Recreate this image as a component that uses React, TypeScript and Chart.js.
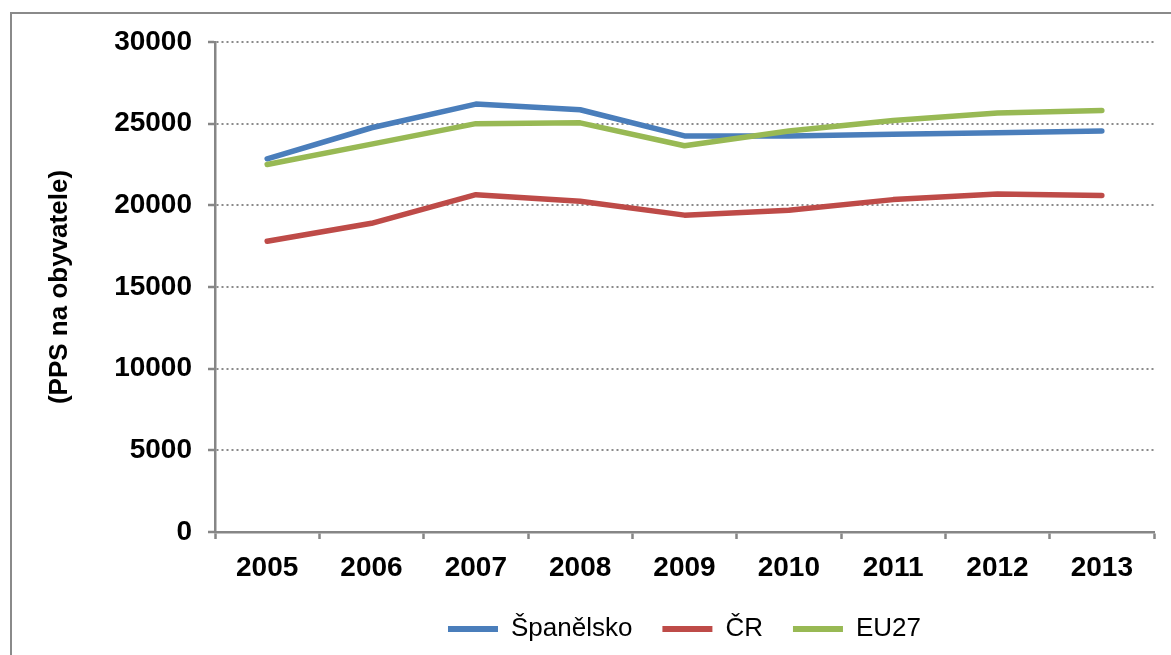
import React, { useEffect, useRef } from "react";
import { Chart, registerables } from "chart.js";

Chart.register(...registerables);

const years = ["2005", "2006", "2007", "2008", "2009", "2010", "2011", "2012", "2013"];
const spanelsko = [22850, 24750, 26200, 25850, 24250, 24250, 24350, 24450, 24550];
const cr = [17800, 18900, 20650, 20250, 19400, 19700, 20350, 20700, 20600];
const eu27 = [22500, 23750, 25000, 25050, 23650, 24550, 25200, 25650, 25800];
const yTicks = [0, 5000, 10000, 15000, 20000, 25000, 30000];

const FONT = "'Liberation Sans', Arial, sans-serif";

export default function App() {
  const ref = useRef<HTMLCanvasElement | null>(null);

  useEffect(() => {
    if (!ref.current) return;
    const chart = new Chart(ref.current, {
      type: "line",
      data: {
        labels: years,
        datasets: [
          {
            label: "Španělsko",
            data: spanelsko,
            borderColor: "#4A7EBB",
            backgroundColor: "#4A7EBB",
            borderWidth: 5.5,
            pointRadius: 0,
            borderCapStyle: "round",
            borderJoinStyle: "round",
            tension: 0,
            order: 1,
          },
          {
            label: "ČR",
            data: cr,
            borderColor: "#BE4B48",
            backgroundColor: "#BE4B48",
            borderWidth: 5.5,
            pointRadius: 0,
            borderCapStyle: "round",
            borderJoinStyle: "round",
            tension: 0,
            order: 2,
          },
          {
            label: "EU27",
            data: eu27,
            borderColor: "#98B954",
            backgroundColor: "#98B954",
            borderWidth: 5.5,
            pointRadius: 0,
            borderCapStyle: "round",
            borderJoinStyle: "round",
            tension: 0,
            order: 0,
          },
        ],
      },
      options: {
        animation: false,
        responsive: false,
        maintainAspectRatio: false,
        layout: { padding: { left: 20, top: 42, right: 17, bottom: 3 } },
        plugins: {
          tooltip: { enabled: false },
          legend: {
            position: "bottom",
            fullSize: false,
            labels: {
              sort: (a: any, b: any) => a.datasetIndex - b.datasetIndex,
              boxWidth: 50,
              boxHeight: 6,
              padding: 30,
              color: "#000",
              font: { family: FONT, size: 26 },
              generateLabels: (c: any) =>
                c.data.datasets.map((ds: any, i: number) => ({
                  text: ds.label,
                  fillStyle: ds.borderColor,
                  strokeStyle: ds.borderColor,
                  lineWidth: 0,
                  datasetIndex: i,
                  hidden: false,
                  fontColor: "#000",
                })),
            },
          },
        },
        scales: {
          x: {
            offset: true,
            grid: {
              offset: true,
              drawOnChartArea: false,
              drawTicks: true,
              tickLength: 7,
              tickColor: "#868686",
              tickWidth: 2.5,
            },
            border: { color: "#868686", width: 2.5 },
            ticks: {
              color: "#000",
              padding: 12,
              maxRotation: 0,
              font: { family: FONT, size: 28, weight: "bold" },
            },
            afterFit: (s: any) => {
              s.height = 54;
            },
          },
          y: {
            min: 0,
            max: 30000,
            afterBuildTicks: (s: any) => {
              s.ticks = yTicks.map((v) => ({ value: v }));
            },
            grid: {
              color: "#8a8a8a",
              lineWidth: 2,
              drawTicks: true,
              tickLength: 7,
              tickColor: "#868686",
              tickWidth: 2.5,
              tickBorderDash: [],
            },
            border: { color: "#868686", width: 2.5, dash: [2, 3] },
            ticks: {
              color: "#000",
              padding: 16,
              font: { family: FONT, size: 28, weight: "bold" },
              callback: (v: any) => String(v),
            },
            title: {
              display: true,
              text: "(PPS na obyvatele)",
              color: "#000",
              padding: { top: 24, bottom: 0 },
              font: { family: FONT, size: 26, weight: "bold" },
            },
            afterFit: (s: any) => {
              s.width = 195;
            },
          },
        },
      },
    });
    return () => chart.destroy();
  }, []);

  return (
    <div
      style={{
        position: "fixed",
        left: 0,
        top: 0,
        width: 1171,
        height: 655,
        overflow: "hidden",
        background: "#fff",
      }}
    >
      <div
        style={{
          position: "absolute",
          left: 10,
          top: 12,
          width: 1250,
          height: 750,
          border: "2px solid #8a8a8a",
          boxSizing: "border-box",
        }}
      />
      <canvas
        ref={ref}
        width={1171}
        height={655}
        style={{ position: "absolute", left: 0, top: 0, width: 1171, height: 655 }}
      />
    </div>
  );
}
